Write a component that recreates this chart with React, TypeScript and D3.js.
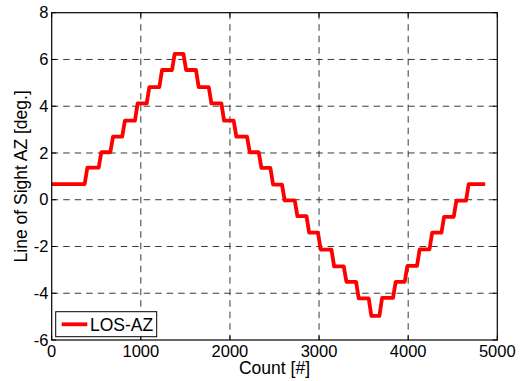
import React from "react";
import * as d3 from "d3";

const xTicks = [0, 1000, 2000, 3000, 4000, 5000];
const yTicks = [-6, -4, -2, 0, 2, 4, 6, 8];
const levels = [0.67, 1.37, 2.03, 2.7, 3.38, 4.12, 4.82, 5.55, 6.24, 5.55, 4.82, 4.12, 3.38, 2.7, 2.03, 1.36, 0.65, -0.03, -0.7, -1.41, -2.13, -2.85, -3.51, -4.22, -4.97, -4.2, -3.51, -2.83, -2.12, -1.41, -0.73, -0.04, 0.67];
const transitions = [385, 542, 673, 806, 949, 1081, 1223, 1365, 1493, 1634, 1777, 1919, 2057, 2207, 2338, 2469, 2599, 2742, 2874, 3003, 3154, 3292, 3430, 3572, 3692, 3845, 3976, 4114, 4254, 4388, 4526, 4664];
const countStart = 0;
const countEnd = 4864;
const seriesName = "LOS-AZ";
const xLabel = "Count [#]";
const yLabel = "Line of Sight AZ [deg.]";

const W = 528, H = 381;
const L = 51.7, R = 497.3, T = 12.7, B = 340;
const FONT = "'Liberation Sans', Arial, Helvetica, sans-serif";

export default function App() {
  const x = d3.scaleLinear().domain([0, 5000]).range([L, R]);
  const y = d3.scaleLinear().domain([-6, 8]).range([B, T]);
  const ramp = 15;
  const pts: [number, number][] = [[countStart, levels[0]]];
  transitions.forEach((t, i) => {
    pts.push([t - ramp, levels[i]]);
    pts.push([t + ramp, levels[i + 1]]);
  });
  pts.push([countEnd, levels[levels.length - 1]]);
  const line = d3.line<[number, number]>().x(d => x(d[0])).y(d => y(d[1]));
  const tl = 4.5;
  return (
    <svg width={W} height={H} style={{ position: "absolute", left: 0, top: 0, background: "#fff" }}>
      <rect x={0} y={0} width={W} height={H} fill="#fff" />
      {xTicks.slice(1, -1).map(t => (
        <line key={"gx" + t} x1={x(t)} x2={x(t)} y1={T} y2={B} stroke="#222" strokeWidth={0.9} strokeDasharray="6.5,5" />
      ))}
      {yTicks.slice(1, -1).map(t => (
        <line key={"gy" + t} x1={L} x2={R} y1={y(t)} y2={y(t)} stroke="#222" strokeWidth={0.9} strokeDasharray="6.5,5" />
      ))}
      {xTicks.map(t => (
        <g key={"tx" + t}>
          <line x1={x(t)} x2={x(t)} y1={B} y2={B - tl} stroke="#000" />
          <line x1={x(t)} x2={x(t)} y1={T} y2={T + tl} stroke="#000" />
          <text x={x(t)} y={357.3} textAnchor="middle" fontSize={16.5} fontFamily={FONT}>{t}</text>
        </g>
      ))}
      {yTicks.map(t => (
        <g key={"ty" + t}>
          <line x1={L} x2={L + tl} y1={y(t)} y2={y(t)} stroke="#000" />
          <line x1={R} x2={R - tl} y1={y(t)} y2={y(t)} stroke="#000" />
          <text x={48.5} y={y(t) + 5.6} textAnchor="end" fontSize={16.5} fontFamily={FONT}>{t}</text>
        </g>
      ))}
      <path d={line(pts) || ""} fill="none" stroke="#ff0000" strokeWidth={3.8} strokeLinejoin="round" />
      <rect x={L} y={T} width={R - L} height={B - T} fill="none" stroke="#000" strokeWidth={1.2} />
      <text x={(L + R) / 2} y={373.5} textAnchor="middle" fontSize={17.5} fontFamily={FONT}>{xLabel}</text>
      <text transform={`translate(27,${(T + B) / 2}) rotate(-90)`} textAnchor="middle" fontSize={17.5} fontFamily={FONT}>{yLabel}</text>
      <g>
        <rect x={55.7} y={311.7} width={101} height={25} fill="#fff" stroke="#000" strokeWidth={1} />
        <line x1={61.7} x2={87.3} y1={324.3} y2={324.3} stroke="#ff0000" strokeWidth={3.8} />
        <text x={90} y={331} fontSize={17.5} fontFamily={FONT}>{seriesName}</text>
      </g>
    </svg>
  );
}
